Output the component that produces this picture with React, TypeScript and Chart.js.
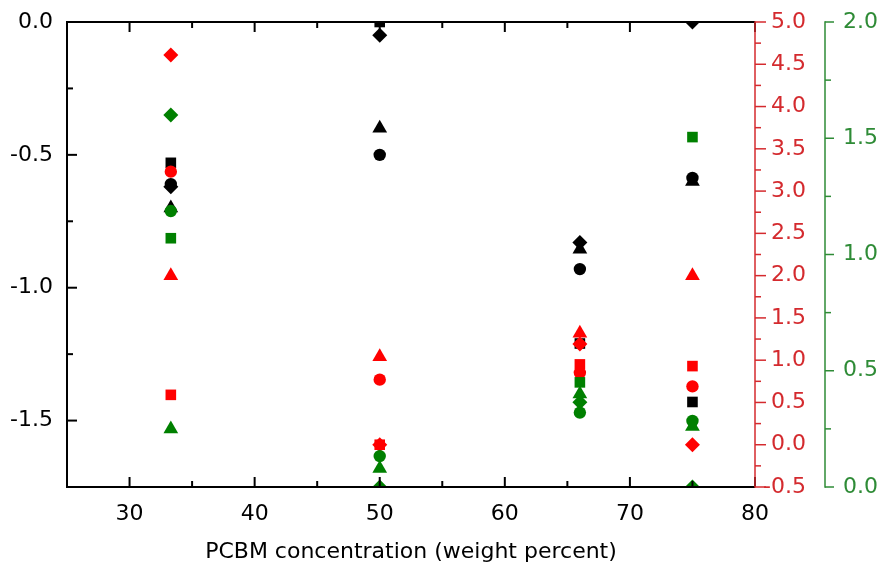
import React, { useEffect, useRef } from 'react';
import { Chart, registerables } from 'chart.js';

Chart.register(...registerables);

// PCBM content of each blend (weight percent)
const pcbmPercent = [33.3, 50, 66, 75];

// Left axis series (black)
const blackSquare = [-0.53, 0.0, -1.21, -1.43];
const blackCircle = [-0.61, -0.5, -0.93, -0.587];
const blackTriangle = [-0.7, -0.4, -0.855, -0.6];
const blackDiamond = [-0.62, -0.05, -0.83, 0.0];

// Right axis series (red)
const redSquare = [0.59, 0.0, 0.95, 0.93];
const redCircle = [3.23, 0.77, 0.85, 0.69];
const redTriangle = [2.0, 1.04, 1.32, 2.0];
const redDiamond = [4.61, 0.0, 1.19, 0.0];

// Outer right axis series (green)
const greenSquare: (number | null)[] = [1.07, null, 0.45, 1.505];
const greenCircle = [1.187, 0.133, 0.32, 0.284];
const greenTriangle = [0.25, 0.08, 0.4, 0.26];
const greenDiamond = [1.6, 0.0, 0.365, 0.0];

// Axis ticks
const xTicks = [30, 40, 50, 60, 70, 80];
const xMinorTicks = [35, 45, 55, 65, 75];
const leftTicks = [0, -0.5, -1.0, -1.5];
const leftMinorTicks = [-0.25, -0.75, -1.25];
const redTicks = [-0.5, 0, 0.5, 1.0, 1.5, 2.0, 2.5, 3.0, 3.5, 4.0, 4.5, 5.0];
const redMinorTicks = [-0.25, 0.25, 0.75, 1.25, 1.75, 2.25, 2.75, 3.25, 3.75, 4.25, 4.75];
const greenTicks = [0, 0.5, 1.0, 1.5, 2.0];
const greenMinorTicks = [0.25, 0.75, 1.25, 1.75];

const xTitle = 'PCBM concentration (weight percent)';

const BLACK = '#000000';
const RED = '#ff0000';
const GREEN = '#008000';
const RED_AXIS = '#d42a2e';
const GREEN_AXIS = '#2e8b36';
const FONT = "'DejaVu Sans', 'Liberation Sans', Arial, sans-serif";

// the green axis line sits this far right of its scale box's left edge
const GREEN_AXIS_OFFSET = 19;

const radii: Record<string, number> = { rect: 7.5, circle: 6.2, triangle: 8.5, rectRot: 7.5 };

function series(values: (number | null)[], color: string, shape: string, axis: string) {
  const data = pcbmPercent
    .map((x, i) => ({ x, y: values[i] }))
    .filter((p) => p.y !== null) as { x: number; y: number }[];
  return {
    data,
    yAxisID: axis,
    pointStyle: shape,
    pointRadius: radii[shape],
    pointHoverRadius: radii[shape],
    backgroundColor: color,
    borderColor: color,
    borderWidth: 0,
    showLine: false,
    clip: 0,
  };
}

const setTicks = (values: number[]) => (scale: any) => {
  scale.ticks = values.map((value) => ({ value }));
};

// fixed box size for a scale, without extra edge padding from its labels
const fixedWidth = (w: number) => (s: any) => {
  s.width = w;
  s.paddingTop = 0;
  s.paddingBottom = 0;
};

// Frame lines and inward / outward tick marks
const frameTicks = {
  id: 'frameTicks',
  afterDatasetsDraw(chart: any) {
    const { ctx, chartArea: a, scales } = chart;
    const { x, y, y1, y2 } = scales;
    const line = (x0: number, yy0: number, x1: number, yy1: number, color: string, w: number) => {
      ctx.beginPath();
      ctx.strokeStyle = color;
      ctx.lineWidth = w;
      ctx.moveTo(x0, yy0);
      ctx.lineTo(x1, yy1);
      ctx.stroke();
    };
    ctx.save();
    ctx.lineCap = 'butt';

    // black frame: left, top, bottom
    line(a.left, a.top - 1, a.left, a.bottom + 1, BLACK, 2);
    line(a.left, a.top, a.right, a.top, BLACK, 2);
    line(a.left, a.bottom, a.right, a.bottom, BLACK, 2);

    // x ticks point into the plot from top and bottom
    xTicks.forEach((v) => {
      const px = x.getPixelForValue(v);
      line(px, a.bottom, px, a.bottom - 10, BLACK, 2);
      line(px, a.top, px, a.top + 10, BLACK, 2);
    });
    xMinorTicks.forEach((v) => {
      const px = x.getPixelForValue(v);
      line(px, a.bottom, px, a.bottom - 6, BLACK, 2);
      line(px, a.top, px, a.top + 6, BLACK, 2);
    });

    // left ticks point into the plot
    leftTicks.forEach((v) => {
      const py = y.getPixelForValue(v);
      line(a.left, py, a.left + 10, py, BLACK, 2);
    });
    leftMinorTicks.forEach((v) => {
      const py = y.getPixelForValue(v);
      line(a.left, py, a.left + 6, py, BLACK, 2);
    });

    // red axis
    const rx = y1.left;
    line(rx, a.top - 0.75, rx, a.bottom + 0.75, RED_AXIS, 1.5);
    redTicks.forEach((v) => {
      const py = y1.getPixelForValue(v);
      line(rx, py, rx + 11, py, RED_AXIS, 1.5);
    });
    redMinorTicks.forEach((v) => {
      const py = y1.getPixelForValue(v);
      line(rx, py, rx + 6, py, RED_AXIS, 1.5);
    });

    // green axis
    const gx = y2.left + GREEN_AXIS_OFFSET;
    line(gx, a.top - 0.75, gx, a.bottom + 0.75, GREEN_AXIS, 1.5);
    greenTicks.forEach((v) => {
      const py = y2.getPixelForValue(v);
      line(gx, py, gx + 9, py, GREEN_AXIS, 1.5);
    });
    greenMinorTicks.forEach((v) => {
      const py = y2.getPixelForValue(v);
      line(gx, py, gx + 6, py, GREEN_AXIS, 1.5);
    });

    ctx.restore();
  },
};

export default function App() {
  const canvasRef = useRef<HTMLCanvasElement | null>(null);

  useEffect(() => {
    if (!canvasRef.current) return;
    const tickFont = { family: FONT, size: 22 };
    const noGrid = { display: false, drawTicks: false };
    const chart = new Chart(canvasRef.current, {
      type: 'scatter',
      data: {
        datasets: [
          series(greenSquare, GREEN, 'rect', 'y2'),
          series(greenTriangle, GREEN, 'triangle', 'y2'),
          series(greenDiamond, GREEN, 'rectRot', 'y2'),
          series(greenCircle, GREEN, 'circle', 'y2'),
          series(redDiamond, RED, 'rectRot', 'y1'),
          series(redTriangle, RED, 'triangle', 'y1'),
          series(redCircle, RED, 'circle', 'y1'),
          series(redSquare, RED, 'rect', 'y1'),
          series(blackCircle, BLACK, 'circle', 'y'),
          series(blackDiamond, BLACK, 'rectRot', 'y'),
          series(blackTriangle, BLACK, 'triangle', 'y'),
          series(blackSquare, BLACK, 'rect', 'y'),
        ] as any,
      },
      options: {
        animation: false,
        responsive: false,
        events: [],
        layout: { padding: { top: 22, left: 0, right: 0, bottom: 0 } },
        plugins: { legend: { display: false }, tooltip: { enabled: false } },
        scales: {
          x: {
            type: 'linear',
            min: 25,
            max: 80,
            grid: noGrid,
            border: { display: false },
            afterBuildTicks: setTicks(xTicks),
            afterFit: (s: any) => {
              s.height = 80;
              s.paddingLeft = 0;
              s.paddingRight = 0;
            },
            ticks: { color: BLACK, font: tickFont, padding: 14, maxRotation: 0 },
            title: {
              display: true,
              text: xTitle,
              color: BLACK,
              font: { family: FONT, size: 22 },
              padding: { top: 0, bottom: 2 },
            },
          },
          y: {
            type: 'linear',
            position: 'left',
            min: -1.75,
            max: 0,
            grid: noGrid,
            border: { display: false },
            afterBuildTicks: setTicks(leftTicks),
            afterFit: fixedWidth(67),
            ticks: {
              color: BLACK,
              font: tickFont,
              padding: 14,
              callback: (v: any) => Number(v).toFixed(1),
            },
          },
          y1: {
            type: 'linear',
            position: 'right',
            weight: 0,
            min: -0.5,
            max: 5,
            grid: noGrid,
            border: { display: false },
            afterBuildTicks: setTicks(redTicks),
            afterFit: fixedWidth(51),
            ticks: {
              color: RED_AXIS,
              font: tickFont,
              padding: 8,
              crossAlign: 'far',
              callback: (v: any) => Number(v).toFixed(1),
            },
          },
          y2: {
            type: 'linear',
            position: 'right',
            weight: 1,
            min: 0,
            max: 2,
            grid: noGrid,
            border: { display: false },
            afterBuildTicks: setTicks(greenTicks),
            afterFit: fixedWidth(75),
            ticks: {
              color: GREEN_AXIS,
              font: tickFont,
              padding: GREEN_AXIS_OFFSET + 18,
              callback: (v: any) => Number(v).toFixed(1),
            },
          },
        },
      } as any,
      plugins: [frameTicks],
    });
    return () => chart.destroy();
  }, []);

  return (
    <div style={{ position: 'absolute', left: 0, top: 0, width: 881, height: 567, background: '#ffffff' }}>
      <canvas ref={canvasRef} width={881} height={567} style={{ display: 'block' }} />
    </div>
  );
}
